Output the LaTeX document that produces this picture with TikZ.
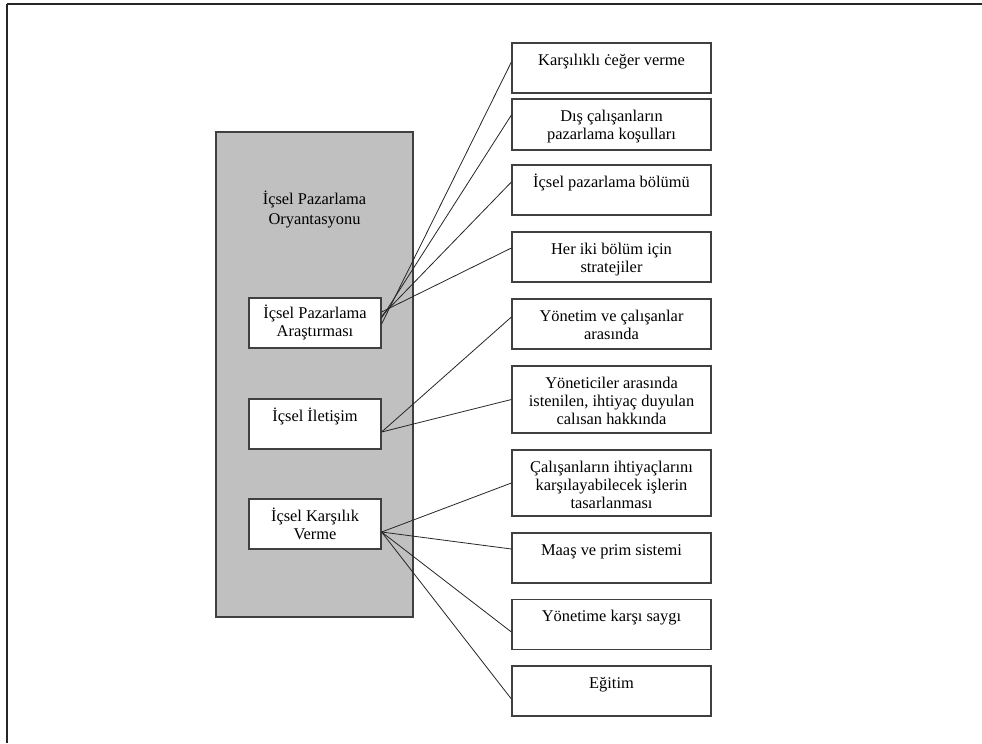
\documentclass[tikz,border=0pt]{standalone}
\usepackage{fontspec}
\setmainfont{Liberation Serif}
\usepackage{tikz}
\usetikzlibrary{calc}
\definecolor{boxgrey}{RGB}{192,192,192}
\definecolor{edgegrey}{RGB}{64,64,64}
\newcommand{\cellstack}[1]{\begin{tabular}[t]{@{}c@{}}#1\end{tabular}}
\tikzset{
  framebox/.style={draw=edgegrey, line width=0.9pt},
  orientbox/.style={framebox, fill=boxgrey, minimum width=147.75pt, minimum height=363.75pt},
  subbox/.style={framebox, fill=white, minimum width=99pt, minimum height=37.5pt},
  itembox/.style={framebox, fill=white, minimum width=149.25pt, minimum height=37.5pt},
  boxtext/.style={anchor=base, inner sep=0pt, yshift=-17.25pt,
    font=\fontsize{12.3}{13.5}\selectfont},
  link/.style={draw=black!85, line width=0.6pt}
}
\begin{document}
\begin{tikzpicture}[x=0.75pt,y=-0.75pt]
\useasboundingbox (0,0) rectangle (982,743);
%%% Draws outer frame
\draw[line width=1.4pt, black!85] (7,4) -- (982,4);
\draw[line width=1.4pt, black!85] (7,4) -- (7,743);
%%% Draws left block
% draws grey box and its title
\node[orientbox] (orient) at (314.5,374.5) {};
\node[align=center, font=\fontsize{12.3}{15}\selectfont] (orienttitle) at (314.5,209) {İçsel Pazarlama\\Oryantasyonu};
% draws inner boxes
\node[subbox, label={[boxtext, yshift=1.5pt]north:{\cellstack{İçsel Pazarlama\\Araştırması}}}] (research) at (315,323) {};
\node[subbox, label={[boxtext]north:{\cellstack{İçsel İletişim}}}] (comm) at (315,424) {};
\node[subbox, label={[boxtext]north:{\cellstack{İçsel Karşılık\\Verme}}}] (reward) at (315,524) {};
%%% Draws right boxes
\node[itembox, label={[boxtext]north:{\cellstack{Karşılıklı ċeğer verme}}}] (r1) at (611.5,68) {};
\node[itembox, minimum height=38.25pt, label={[boxtext]north:{\cellstack{Dış çalışanların\\pazarlama koşulları}}}] (r2) at (611.5,124.5) {};
\node[itembox, label={[boxtext]north:{\cellstack{İçsel pazarlama bölümü}}}] (r3) at (611.5,190) {};
\node[itembox, label={[boxtext]north:{\cellstack{Her iki bölüm için\\stratejiler}}}] (r4) at (611.5,257) {};
\node[itembox, label={[boxtext]north:{\cellstack{Yönetim ve çalışanlar\\arasında}}}] (r5) at (611.5,324) {};
\node[itembox, minimum height=50.25pt, label={[boxtext]north:{\cellstack{Yöneticiler arasında\\istenilen, ihtiyaç duyulan\\calısan hakkında}}}] (r6) at (611.5,399.5) {};
\node[itembox, minimum height=49.5pt, label={[boxtext]north:{\cellstack{Çalışanların ihtiyaçlarını\\karşılayabilecek işlerin\\tasarlanması}}}] (r7) at (611.5,483) {};
\node[itembox, label={[boxtext]north:{\cellstack{Maaş ve prim sistemi}}}] (r8) at (611.5,558) {};
\node[itembox, label={[boxtext]north:{\cellstack{Yönetime karşı saygı}}}] (r9) at (611.5,624.5) {};
\node[itembox, label={[boxtext]north:{\cellstack{Eğitim}}}] (r10) at (611.5,691) {};
%%% Draws links
% from research box
\draw[link] ($(research.east)+(0,1)$) -- ($(r1.west)+(0,-6)$);
\draw[link] ($(research.east)+(0,-5)$) -- ($(r2.west)+(0,-9.5)$);
\draw[link] ($(research.east)+(0,-7)$) -- ($(r3.west)+(0,-8)$);
\draw[link] ($(research.east)+(0,-11)$) -- ($(r4.west)+(0,-9)$);
% from communication box
\draw[link] ($(comm.east)+(0,8)$) -- ($(r5.west)+(0,-7)$);
\draw[link] ($(comm.east)+(0,8)$) -- (r6.west);
% from reward box
\draw[link] ($(reward.east)+(0,8)$) -- (r7.west);
\draw[link] ($(reward.east)+(0,8)$) -- ($(r8.west)+(0,-9)$);
\draw[link] ($(reward.east)+(0,8)$) -- ($(r9.west)+(0,7.5)$);
\draw[link] ($(reward.east)+(0,8)$) -- ($(r10.west)+(0,8)$);
\end{tikzpicture}
\end{document}
